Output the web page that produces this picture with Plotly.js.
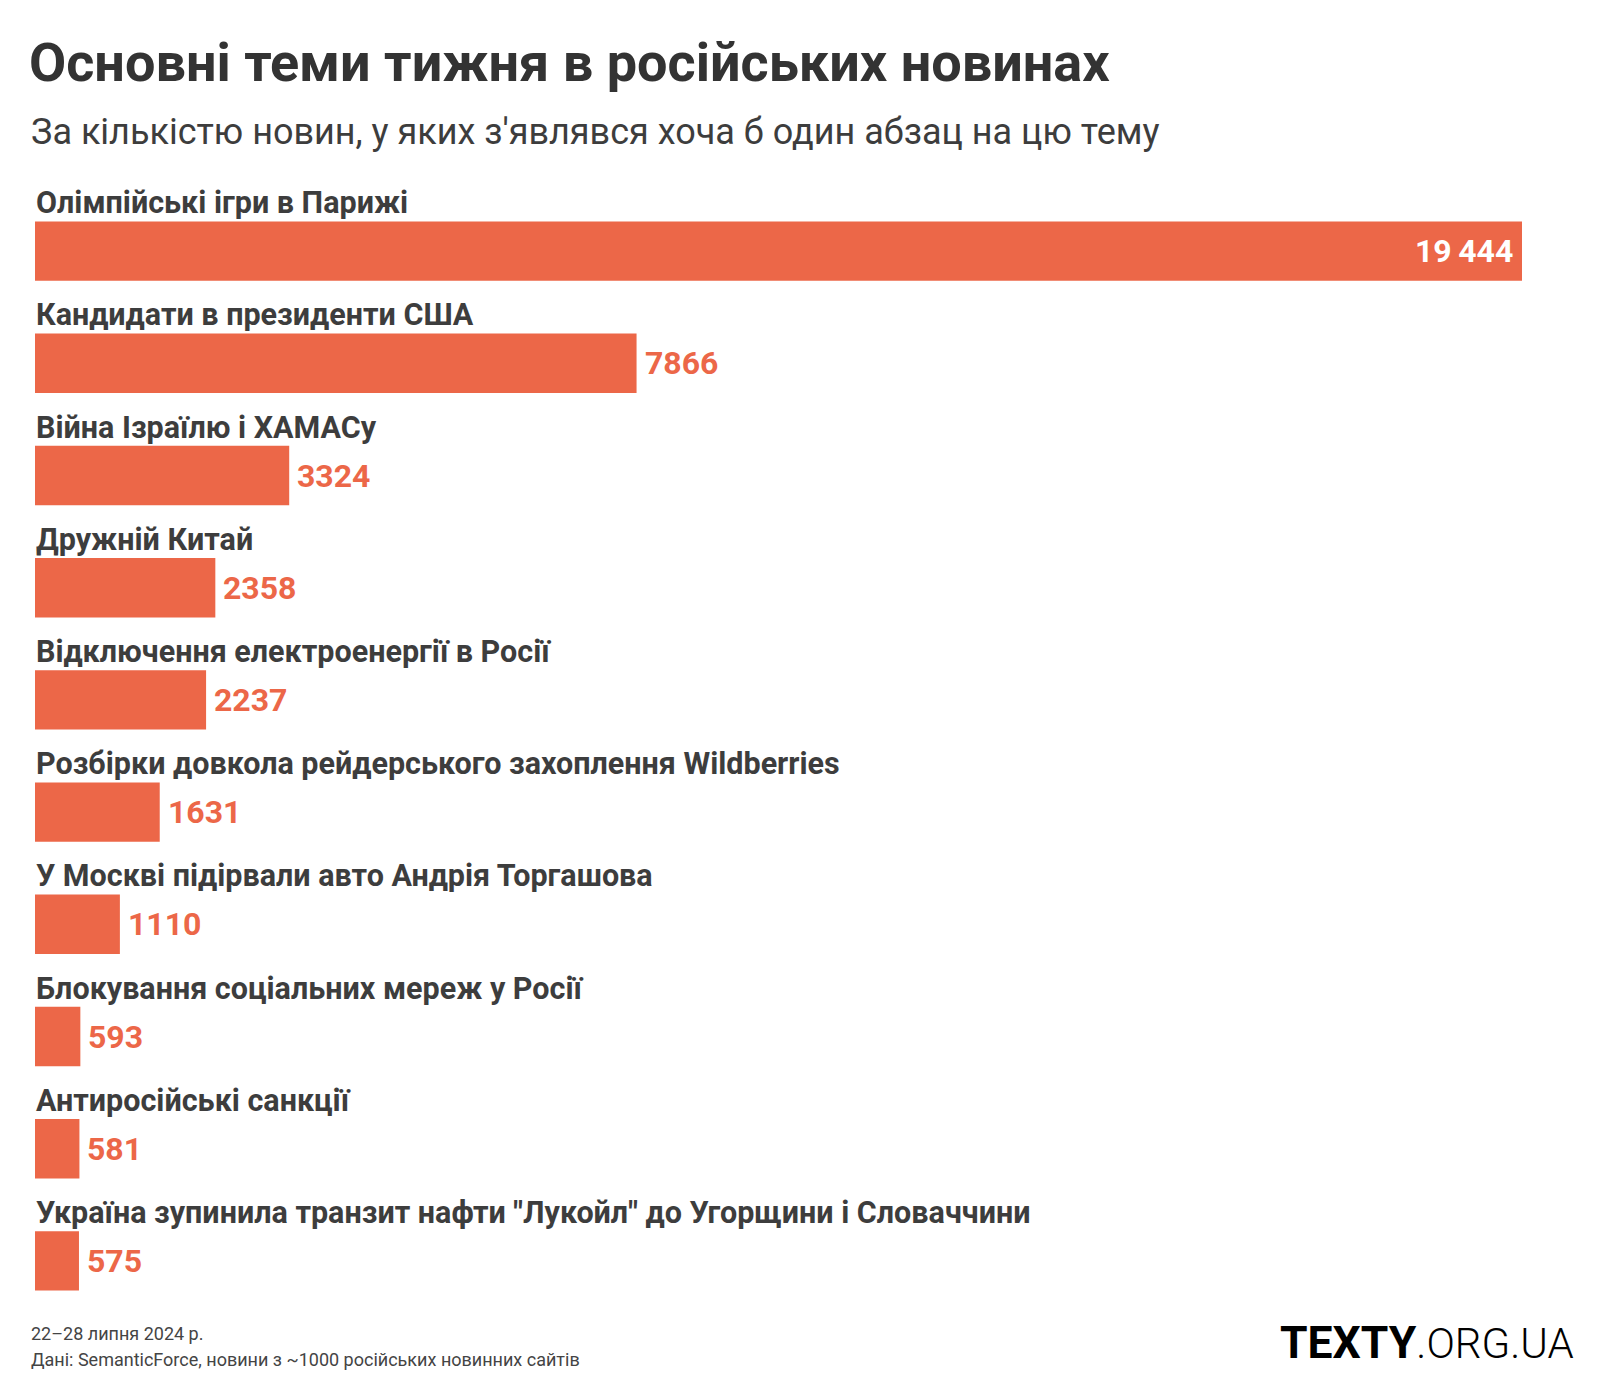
<!DOCTYPE html>
<html>
<head>
<meta charset="utf-8">
<script src="https://cdn.plot.ly/plotly-3.0.1.min.js"></script>
<style>html,body{margin:0;padding:0;background:#fff;}#chart{width:1600px;height:1400px;}</style>
</head>
<body>
<div id="chart"></div>
<script>
const categories = [
  "Олімпійські ігри в Парижі",
  "Кандидати в президенти США",
  "Війна Ізраїлю і ХАМАСу",
  "Дружній Китай",
  "Відключення електроенергії в Росії",
  "Розбірки довкола рейдерського захоплення Wildberries",
  "У Москві підірвали авто Андрія Торгашова",
  "Блокування соціальних мереж у Росії",
  "Антиросійські санкції",
  "Україна зупинила транзит нафти \"Лукойл\" до Угорщини і Словаччини"
];
const newsCounts = [19444, 7866, 3324, 2358, 2237, 1631, 1110, 593, 581, 575];

const titleText = "Основні теми тижня в російських новинах";
const subtitleText = "За кількістю новин, у яких з'являвся хоча б один абзац на цю тему";
const footerDate = "22–28 липня 2024 р.";
const footerSource = "Дані: SemanticForce, новини з ~1000 російських новинних сайтів";

const W = 1600, H = 1400;
const ML = 35, MR = 78, MT = 195, MB = 83;
const PW = W - ML - MR, PH = H - MT - MB;
const px = x => (x - ML) / PW;
const py = y => (H - MB - y) / PH;

const BAR = '#ec6748';
const TXT = '#3d3d3d';
const FONT = 'Roboto, "Open Sans", sans-serif';

function fmt(v) {
  if (v >= 10000) return String(v).replace(/\B(?=(\d{3})+(?!\d))/g, '\u2009');
  return String(v);
}

const maxVal = Math.max(...newsCounts);

const annotations = [];
categories.forEach((c, i) => {
  annotations.push({
    xref: 'x', yref: 'y', x: 0, y: c, xanchor: 'left', yanchor: 'bottom',
    yshift: 30, showarrow: false, borderpad: 0,
    text: '<b>' + c + '</b>',
    font: {family: FONT, size: 30.5, color: TXT}
  });
  const inside = newsCounts[i] === maxVal;
  annotations.push({
    xref: 'x', yref: 'y', x: newsCounts[i], y: c,
    xanchor: inside ? 'right' : 'left', yanchor: 'middle',
    xshift: inside ? -8 : 7, yshift: 0, showarrow: false, borderpad: 0,
    text: '<b>' + fmt(newsCounts[i]) + '</b>',
    font: {family: FONT, size: 32, color: inside ? '#ffffff' : BAR}
  });
});

annotations.push({
  xref: 'paper', yref: 'paper', x: px(29), y: py(132), xanchor: 'left', yanchor: 'middle',
  showarrow: false, text: subtitleText, font: {family: FONT, size: 36, color: TXT}
});
annotations.push({
  xref: 'paper', yref: 'paper', x: px(29), y: py(1333), xanchor: 'left', yanchor: 'middle',
  showarrow: false, text: footerDate, font: {family: FONT, size: 18, color: '#444'}
});
annotations.push({
  xref: 'paper', yref: 'paper', x: px(29), y: py(1359), xanchor: 'left', yanchor: 'middle',
  showarrow: false, text: footerSource, font: {family: FONT, size: 18, color: '#444'}
});
annotations.push({
  xref: 'paper', yref: 'paper', x: px(1576), y: py(1343), xanchor: 'right', yanchor: 'middle',
  showarrow: false, text: '<b>TEXTY</b><span style="font-weight:300;font-size:42px">.ORG.UA</span>',
  font: {family: FONT, size: 44.5, color: '#000'}
});

const trace = {
  type: 'bar', orientation: 'h',
  y: categories, x: newsCounts,
  marker: {color: BAR, line: {width: 0}},
  hoverinfo: 'none', textposition: 'none'
};

const layout = {
  width: W, height: H,
  margin: {l: ML, r: MR, t: MT, b: MB, pad: 0},
  paper_bgcolor: '#fff', plot_bgcolor: '#fff',
  showlegend: false,
  bargap: 0.471,
  title: {
    text: '<b>' + titleText + '</b>',
    x: 29 / W, xanchor: 'left', xref: 'container',
    y: 1 - 62 / H, yanchor: 'middle', yref: 'container',
    font: {family: FONT, size: 54, color: '#333'}
  },
  xaxis: {range: [0, maxVal], visible: false, fixedrange: true},
  yaxis: {type: 'category', categoryorder: 'array', categoryarray: categories,
          range: [categories.length - 0.5, -0.5], autorange: false, showticklabels: false,
          showgrid: false, zeroline: false, showline: false, ticks: '', fixedrange: true},
  annotations: annotations
};

Plotly.newPlot('chart', [trace], layout, {displayModeBar: false, staticPlot: true});
</script>
</body>
</html>
